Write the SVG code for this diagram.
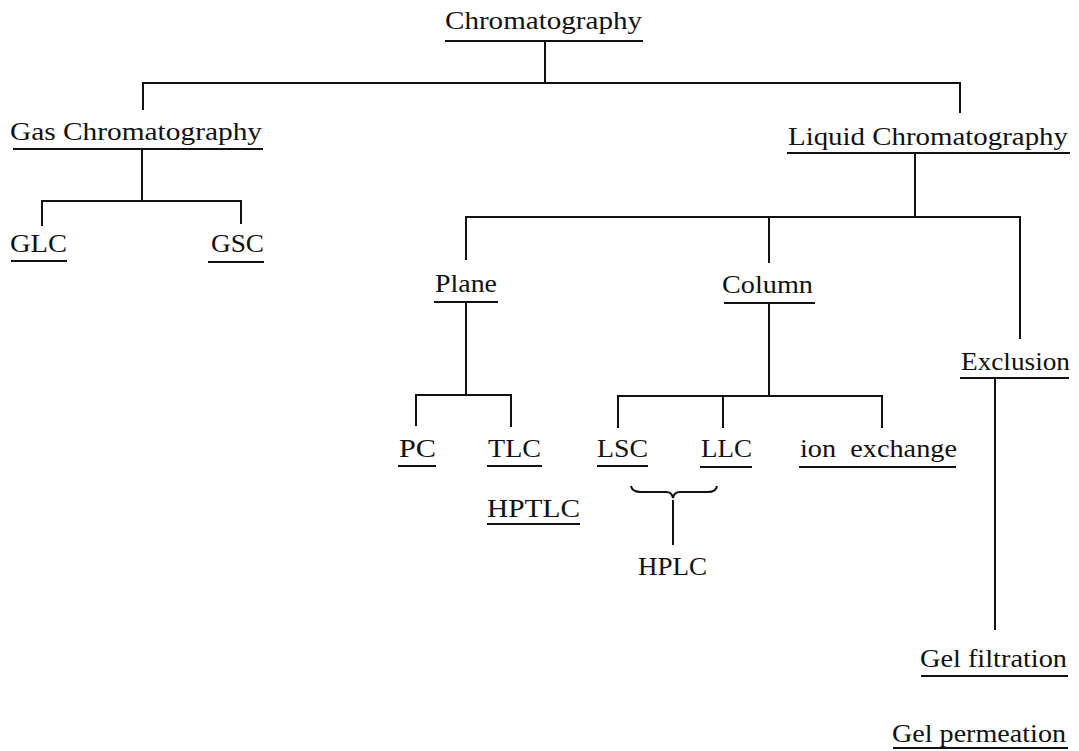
<svg xmlns="http://www.w3.org/2000/svg" width="1079" height="751" viewBox="0 0 1079 751">
<style>
text{font-family:"Liberation Serif","Times New Roman",serif;font-size:25px;fill:#111}
.ul{stroke:#111;stroke-width:1.8}
.c{fill:none;stroke:#111;stroke-width:2}
</style>
<rect width="1079" height="751" fill="#fff"/>
<g id="connectors" class="c">
<path d="M545 41V83M143 110V83H960V113"/>
<path d="M142 149V201M42 226V201H241V224"/>
<path d="M915 153V217M466 260V217H1020V339M769 217V263"/>
<path d="M466 302V395M416 426V395H511V427"/>
<path d="M769 303V396M618 428V396H882V428M723 396V428"/>
<path d="M995 378V630"/>
<path d="M631 486Q632 492 641 492H666Q672 492 673 498Q674 492 680 492H708Q716 492 717 486M673 500V545"/>
</g>
<g id="chromatography"><text x="445" y="29" textLength="197" lengthAdjust="spacingAndGlyphs">Chromatography</text><line class="ul" x1="445" y1="41" x2="643" y2="41"/></g>
<g id="gas"><text x="10" y="140" textLength="252" lengthAdjust="spacingAndGlyphs">Gas Chromatography</text><line class="ul" x1="13" y1="149" x2="263" y2="149"/></g>
<g id="liquid"><text x="788" y="145" textLength="280" lengthAdjust="spacingAndGlyphs">Liquid Chromatography</text><line class="ul" x1="787" y1="153" x2="1070" y2="153"/></g>
<g id="glc"><text x="10" y="252" textLength="57" lengthAdjust="spacingAndGlyphs">GLC</text><line class="ul" x1="11" y1="261" x2="67" y2="261"/></g>
<g id="gsc"><text x="211" y="252" textLength="53" lengthAdjust="spacingAndGlyphs">GSC</text><line class="ul" x1="208" y1="262" x2="264" y2="262"/></g>
<g id="plane"><text x="435" y="292" textLength="62" lengthAdjust="spacingAndGlyphs">Plane</text><line class="ul" x1="434" y1="302" x2="498" y2="302"/></g>
<g id="column"><text x="722" y="293" textLength="91" lengthAdjust="spacingAndGlyphs">Column</text><line class="ul" x1="724" y1="303" x2="815" y2="303"/></g>
<g id="exclusion"><text x="961" y="370" textLength="109" lengthAdjust="spacingAndGlyphs">Exclusion</text><line class="ul" x1="960" y1="378" x2="1069" y2="378"/></g>
<g id="pc"><text x="399" y="457" textLength="37" lengthAdjust="spacingAndGlyphs">PC</text><line class="ul" x1="398" y1="466" x2="436" y2="466"/></g>
<g id="tlc"><text x="488" y="457" textLength="53" lengthAdjust="spacingAndGlyphs">TLC</text><line class="ul" x1="487" y1="466" x2="542" y2="466"/></g>
<g id="lsc"><text x="597" y="457" textLength="51" lengthAdjust="spacingAndGlyphs">LSC</text><line class="ul" x1="597" y1="466" x2="648" y2="466"/></g>
<g id="llc"><text x="701" y="457" textLength="51" lengthAdjust="spacingAndGlyphs">LLC</text><line class="ul" x1="700" y1="467" x2="752" y2="467"/></g>
<g id="ion"><text x="800" y="457" textLength="157" lengthAdjust="spacingAndGlyphs" xml:space="preserve">ion  exchange</text><line class="ul" x1="799" y1="467" x2="956" y2="467"/></g>
<g id="hptlc"><text x="487" y="517" textLength="93" lengthAdjust="spacingAndGlyphs">HPTLC</text><line class="ul" x1="487" y1="524" x2="580" y2="524"/></g>
<g id="hplc"><text x="638" y="575" textLength="69" lengthAdjust="spacingAndGlyphs">HPLC</text></g>
<g id="gelf"><text x="920" y="667" textLength="147" lengthAdjust="spacingAndGlyphs">Gel filtration</text><line class="ul" x1="921" y1="676" x2="1068" y2="676"/></g>
<g id="gelp"><text x="892" y="742" textLength="174" lengthAdjust="spacingAndGlyphs">Gel permeation</text><line class="ul" x1="893" y1="748" x2="1068" y2="748"/></g>
</svg>
